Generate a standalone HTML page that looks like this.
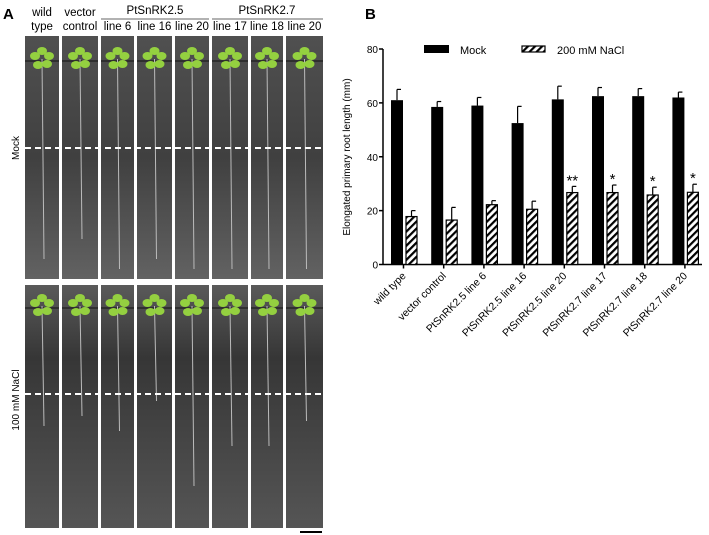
<!DOCTYPE html>
<html><head><meta charset="utf-8"><style>
body{margin:0;background:#fff;width:709px;height:535px;overflow:hidden;font-family:"Liberation Sans",sans-serif}
svg{display:block}
</style></head><body>
<svg id="fig" width="709" height="535">
<defs>
<pattern id="hatch" width="5" height="5" patternUnits="userSpaceOnUse" patternTransform="rotate(45)">
<rect width="5" height="5" fill="#fff"/><rect width="2.2" height="5" fill="#000"/></pattern>
<linearGradient id="bgT" x1="0" y1="0" x2="0" y2="1"><stop offset="0" stop-color="#505050"/><stop offset="0.5" stop-color="#404040"/><stop offset="1" stop-color="#626262"/></linearGradient>
<linearGradient id="bgB" x1="0" y1="0" x2="0" y2="1"><stop offset="0" stop-color="#5a5a5a"/><stop offset="0.3" stop-color="#363636"/><stop offset="1" stop-color="#555"/></linearGradient>
</defs>
<g id="panelA"></g>
<g id="panelB"></g>
</svg>
<script>
const NS='http://www.w3.org/2000/svg';
function mk(p,tag,at,txt){const e=document.createElementNS(NS,tag);for(const k in at)e.setAttribute(k,at[k]);if(txt!==undefined)e.textContent=txt;p.appendChild(e);return e;}

const categories=['wild type','vector control','PtSnRK2.5 line 6','PtSnRK2.5 line 16','PtSnRK2.5 line 20','PtSnRK2.7 line 17','PtSnRK2.7 line 18','PtSnRK2.7 line 20'];
const mockValues=[61,58.5,59,52.5,61.3,62.5,62.5,62];
const mockErr=[4,2,3,6.2,4.9,3.2,2.8,2];
const naclValues=[17.8,16.5,22.2,20.5,26.7,26.7,25.8,26.8];
const naclErr=[2.2,4.7,1.5,3,2.3,2.8,2.9,3];
const stars=['','','','','**','*','*','*'];
const yTicks=[0,20,40,60,80];

// ---- Panel A (photos) ----
const A=document.getElementById('panelA');
let t=mk(A,'text',{x:3,y:19,'font-size':15,'font-weight':'bold'},'A');

const cols=[[25,59],[62,98],[101,134],[137,172],[175,209],[212,248],[251,283],[286,323]];
const heads=[['wild','type'],['vector','control'],['','line 6'],['','line 16'],['','line 20'],['','line 17'],['','line 18'],['','line 20']];
const rootLenT=[200,180,210,200,210,210,210,210], rootLenB=[120,110,125,95,180,140,140,115];
cols.forEach((c,i)=>{
  const cx=(c[0]+c[1])/2;
  if(heads[i][0]){const h=mk(A,'text',{x:cx,y:16,'font-size':11.5,'text-anchor':'middle'},heads[i][0]);}
  const h2=mk(A,'text',{x:cx,y:30,'font-size':11.5,'text-anchor':'middle'},heads[i][1]);
  
  [[36,279,'url(#bgT)',59,rootLenT[i]],[285,528,'url(#bgB)',306,rootLenB[i]]].forEach(p=>{
    const r=mk(A,'rect',{x:c[0],y:p[0],width:c[1]-c[0],height:p[1]-p[0],fill:p[2]});
    
    mk(A,'line',{x1:c[0],x2:c[1],y1:p[3]+2,y2:p[3]+2,stroke:'#111','stroke-width':1});
    mk(A,'line',{x1:cx,x2:cx+2,y1:p[3],y2:p[3]+p[4],stroke:'#bbb','stroke-width':1});
    [[-7,-3],[7,-3],[-4,6],[5,5],[0,-8]].forEach(d=>mk(A,'ellipse',{cx:cx+d[0],cy:p[3]+d[1],rx:5,ry:4,fill:'#94d040'}));
  });
});
mk(A,'line',{x1:101,x2:209,y1:19,y2:19,stroke:'#666'});
mk(A,'line',{x1:212,x2:323,y1:19,y2:19,stroke:'#666'});
t=mk(A,'text',{x:155,y:14,'font-size':11.5,'text-anchor':'middle'},'PtSnRK2.5');
t=mk(A,'text',{x:267,y:14,'font-size':11.5,'text-anchor':'middle'},'PtSnRK2.7');
let d=mk(A,'line',{x1:25,x2:323,y1:148,y2:148,stroke:'#fff','stroke-width':2,'stroke-dasharray':'6,4'});

d=mk(A,'line',{x1:25,x2:323,y1:394,y2:394,stroke:'#fff','stroke-width':2,'stroke-dasharray':'6,4'});

t=mk(A,'text',{x:0,y:0,'font-size':10,'text-anchor':'middle',transform:'translate(19,148) rotate(-90)'},'Mock');

t=mk(A,'text',{x:0,y:0,'font-size':10,'text-anchor':'middle',transform:'translate(19,400) rotate(-90)'},'100 mM  NaCl');

d=mk(A,'line',{x1:300,x2:322,y1:532,y2:532,stroke:'#000','stroke-width':2});


// ---- Panel B (chart) ----
const B=document.getElementById('panelB');
const y0=264.5,yTop=49,xAxis=383,step=40.2,x0=403.5;
const ys=v=>y0-(v/80)*(y0-yTop);
const xs=i=>x0+i*step;
t=mk(B,'text',{x:365,y:19,'font-size':15,'font-weight':'bold'},'B');

mk(B,'line',{x1:xAxis,x2:xAxis,y1:yTop,y2:y0,stroke:'#000','stroke-width':1.5});
mk(B,'line',{x1:xAxis,x2:702,y1:y0,y2:y0,stroke:'#000','stroke-width':1.5});
yTicks.forEach(v=>{
  mk(B,'line',{x1:xAxis-4,x2:xAxis,y1:ys(v),y2:ys(v),stroke:'#000','stroke-width':1.5});
  const l=mk(B,'text',{x:xAxis-5,y:ys(v)+4,'font-size':10,'text-anchor':'end'},v);
  
});
t=mk(B,'text',{x:0,y:0,'font-size':10,'text-anchor':'middle',transform:'translate(350,157) rotate(-90)'},'Elongated primary root length (mm)');

categories.forEach((c,i)=>{
  const cx=xs(i);
  mk(B,'line',{x1:cx,x2:cx,y1:y0,y2:y0+4,stroke:'#000','stroke-width':1.5});
  const m=mk(B,'rect',{x:cx-12.5,y:ys(mockValues[i]),width:12,height:y0-ys(mockValues[i]),fill:'#000'});
  
  const em=ys(mockValues[i]+mockErr[i]);
  mk(B,'line',{x1:cx-6.5,x2:cx-6.5,y1:em,y2:ys(mockValues[i]),stroke:'#000','stroke-width':1.2});
  mk(B,'line',{x1:cx-6.5,x2:cx-2.5,y1:em,y2:em,stroke:'#000','stroke-width':1.2});
  const n=mk(B,'rect',{x:cx+2.5,y:ys(naclValues[i]),width:11,height:y0-ys(naclValues[i]),fill:'url(#hatch)',stroke:'#000','stroke-width':1.2});
  
  const en=ys(naclValues[i]+naclErr[i]);
  mk(B,'line',{x1:cx+8,x2:cx+8,y1:en,y2:ys(naclValues[i]),stroke:'#000','stroke-width':1.2});
  mk(B,'line',{x1:cx+8,x2:cx+12,y1:en,y2:en,stroke:'#000','stroke-width':1.2});
  if(stars[i]){const s=mk(B,'text',{x:cx+8,y:en-1,'font-size':15,'text-anchor':'middle'},stars[i]);
    }
  const l=mk(B,'text',{x:0,y:0,'font-size':10.5,'text-anchor':'end',transform:`translate(${cx+3},${y0+12}) rotate(-45)`},c);
  
});
let lg=mk(B,'rect',{x:424,y:45,width:25,height:8,fill:'#000'});

t=mk(B,'text',{x:460,y:54,'font-size':11},'Mock');
lg=mk(B,'rect',{x:522,y:46,width:23,height:6,fill:'url(#hatch)',stroke:'#000','stroke-width':1.2});

t=mk(B,'text',{x:557,y:54,'font-size':11},'200 mM NaCl');
</script>
</body></html>
